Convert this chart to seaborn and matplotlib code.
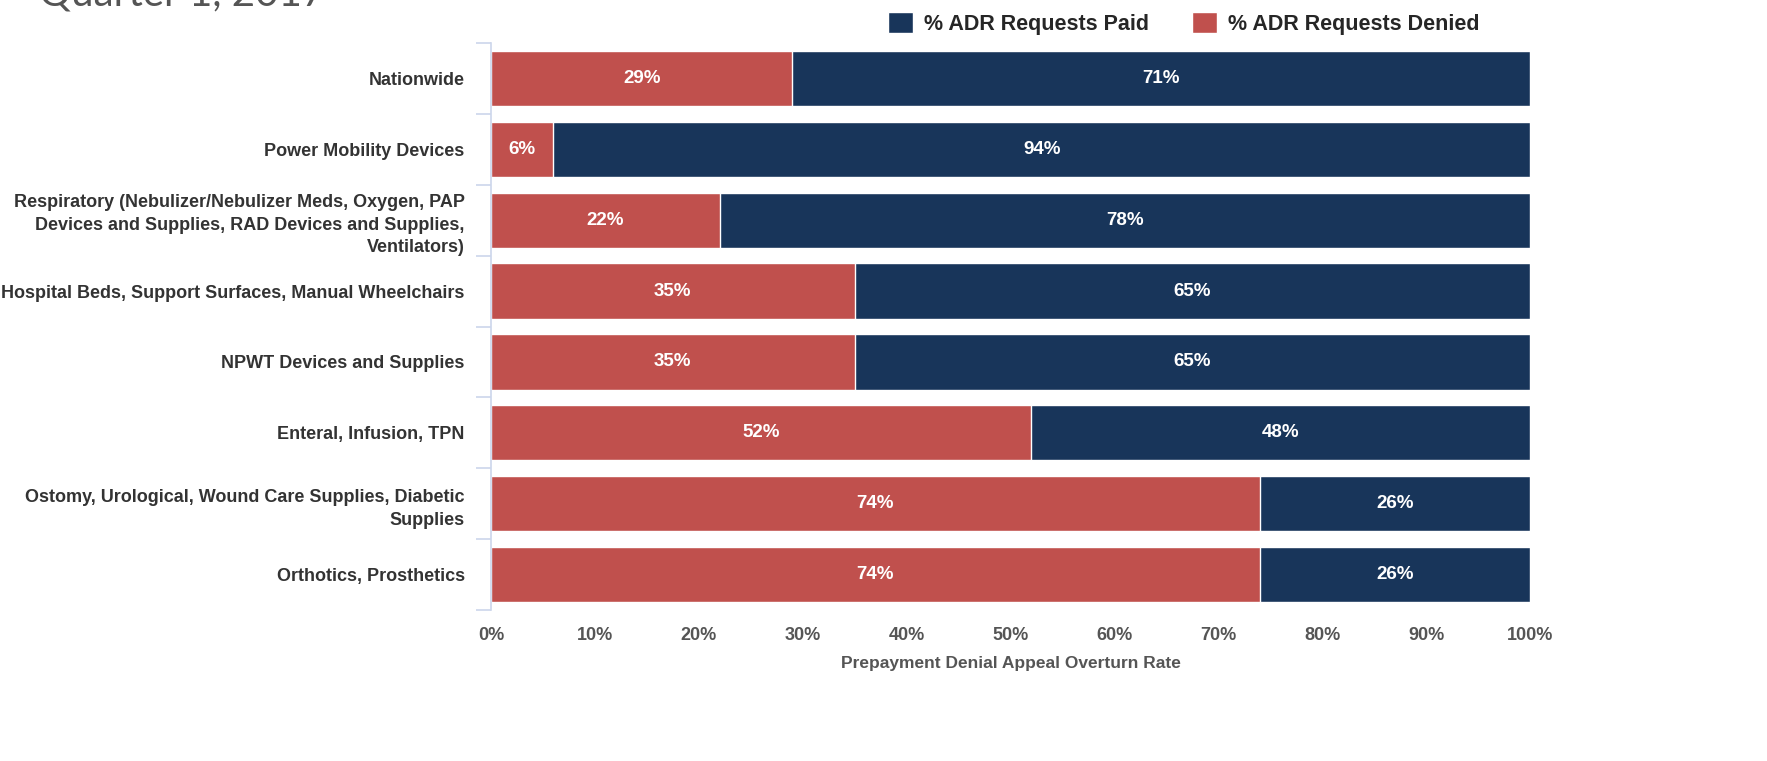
import numpy as np
import pandas as pd
import matplotlib
matplotlib.use("Agg")
import matplotlib.pyplot as plt
import seaborn as sns
from matplotlib.patches import Patch

categories = [
    "Nationwide",
    "Power Mobility Devices",
    "Respiratory (Nebulizer/Nebulizer Meds, Oxygen, PAP\nDevices and Supplies, RAD Devices and Supplies,\nVentilators)",
    "Hospital Beds, Support Surfaces, Manual Wheelchairs",
    "NPWT Devices and Supplies",
    "Enteral, Infusion, TPN",
    "Ostomy, Urological, Wound Care Supplies, Diabetic\nSupplies",
    "Orthotics, Prosthetics",
]
denied = [29, 6, 22, 35, 35, 52, 74, 74]
paid = [71, 94, 78, 65, 65, 48, 26, 26]
x_ticks = [0, 10, 20, 30, 40, 50, 60, 70, 80, 90, 100]

RED = "#c0504d"
NAVY = "#18355a"
FONT = ["Liberation Sans Narrow", "Liberation Sans", "DejaVu Sans"]

sns.set_style("white")
plt.rcParams["font.family"] = FONT

df = pd.DataFrame({"category": categories, "denied": denied, "paid": paid})
df["total"] = df["denied"] + df["paid"]

fig = plt.figure(figsize=(17.67, 7.61), dpi=100)
ax = fig.add_axes([0.2779, 0.1984, 0.588, 0.7451])

# navy full-length bar first, red denied share drawn over it
sns.barplot(data=df, y="category", x="total", color=NAVY, orient="h",
            width=0.78, edgecolor="white", linewidth=1, ax=ax, saturation=1)
sns.barplot(data=df, y="category", x="denied", color=RED, orient="h",
            width=0.78, edgecolor="white", linewidth=1, ax=ax, saturation=1)

for i, row in df.iterrows():
    ax.text(row["denied"] / 2, i, f"{row['denied']}%", ha="center", va="center",
            color="white", fontsize=13.5, fontweight="bold")
    ax.text(row["denied"] + row["paid"] / 2, i, f"{row['paid']}%", ha="center",
            va="center", color="white", fontsize=13.5, fontweight="bold")

ax.set_xlim(0, 100)
ax.set_ylim(len(categories) - 0.5, -0.5)
ax.set_xticks(x_ticks)
ax.set_xticklabels([f"{t}%" for t in x_ticks], fontsize=13, color="#555555",
                   fontweight="bold")
ax.tick_params(axis="x", length=0, pad=12)
ax.set_yticks(range(len(categories)))
ax.set_yticklabels(categories, fontsize=13, color="#333333", fontweight="bold",
                   linespacing=1.45)
ax.tick_params(axis="y", which="major", left=False, length=0, pad=19)
ax.set_yticks(np.arange(-0.5, len(categories)), minor=True)
ax.tick_params(axis="y", which="minor", left=True, length=11,
               color="#ccd6eb", width=1.2)
ax.set_xlabel("Prepayment Denial Appeal Overturn Rate", fontsize=12.5,
              color="#555555", fontweight="bold", labelpad=9)
ax.set_ylabel("")

for side in ["top", "right", "bottom"]:
    ax.spines[side].set_visible(False)
ax.spines["left"].set_color("#ccd6eb")
ax.spines["left"].set_linewidth(1.2)

handles = [Patch(facecolor=NAVY, label="% ADR Requests Paid"),
           Patch(facecolor=RED, label="% ADR Requests Denied")]
fig.legend(handles=handles, loc="upper right", bbox_to_anchor=(0.848, 1.01),
           ncol=2, frameon=False, handlelength=1.15, handleheight=1.15,
           columnspacing=2.0, handletextpad=0.5,
           prop={"family": FONT, "weight": "bold", "size": 15.5})

fig.text(0.022, 1.008, "Quarter 1, 2017", fontsize=29, color="#555555",
         va="center", ha="left", family=["Lato", "DejaVu Sans"])

fig.savefig("out.png", dpi=100)
